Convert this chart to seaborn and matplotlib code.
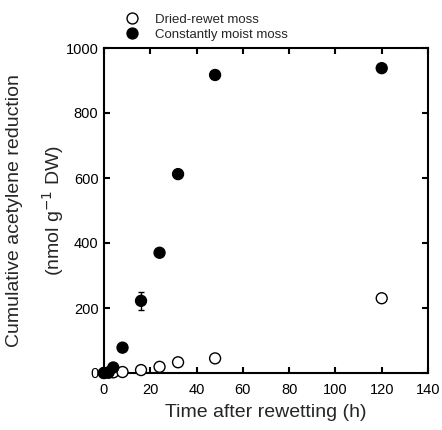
import numpy as np
import pandas as pd
import matplotlib
matplotlib.use("Agg")
import matplotlib.pyplot as plt
import seaborn as sns

# values
hours = [0, 2, 4, 8, 16, 24, 32, 48, 120]
dried_rewet = [0, 1, 2, 3, 9, 19, 33, 45, 230]
constantly_moist = [0, 2, 17, 78, 222, 370, 612, 917, 938]
moist_err = [0, 2, 4, 6, 28, 10, 8, 8, 8]

df = pd.DataFrame({
    "hours": hours * 2,
    "value": dried_rewet + constantly_moist,
    "treatment": ["Dried-rewet moss"] * len(hours) + ["Constantly moist moss"] * len(hours),
})

sns.set_theme(style="ticks")
plt.rcParams["font.family"] = ["Liberation Sans", "DejaVu Sans"]

fig = plt.figure(figsize=(4.42, 4.30), dpi=100)
ax = fig.add_axes([104 / 442, 57 / 430, 324 / 442, 325 / 430])

ax.errorbar(hours, constantly_moist, yerr=moist_err, fmt="none", ecolor="black",
            elinewidth=1, capsize=2, zorder=1)
sns.scatterplot(data=df, x="hours", y="value", hue="treatment", style="treatment",
                palette={"Dried-rewet moss": "white", "Constantly moist moss": "black"},
                markers={"Dried-rewet moss": "o", "Constantly moist moss": "o"},
                s=62, edgecolor="black", linewidth=1, ax=ax, zorder=3, clip_on=False)

ax.set_xlim(0, 140)
ax.set_ylim(0, 1000)
ax.set_xticks(np.arange(0, 141, 20))
ax.set_yticks(np.arange(0, 1001, 200))
for side in ["top", "right", "left", "bottom"]:
    ax.spines[side].set_visible(True)
    ax.spines[side].set_linewidth(1.5)
    ax.spines[side].set_color("black")
ax.tick_params(direction="in", length=4.5, width=1.5, labelsize=10.5, colors="black",
               top=True, right=True, pad=4)
ax.tick_params(axis="x", pad=7)

ax.set_xlabel("Time after rewetting (h)", fontsize=14, labelpad=5)
ax.set_ylabel("Cumulative acetylene reduction\n(nmol g$^{-1}$ DW)", fontsize=14,
              linespacing=1.85)
ax.yaxis.set_label_coords(-38 / 324, 0.5)

ax.legend(loc="lower left", bbox_to_anchor=(0.03, 1.005), frameon=False, fontsize=9.5,
          handletextpad=0.7, labelspacing=0.25, borderaxespad=0, markerscale=1.0)

fig.savefig("out.png", dpi=100)
